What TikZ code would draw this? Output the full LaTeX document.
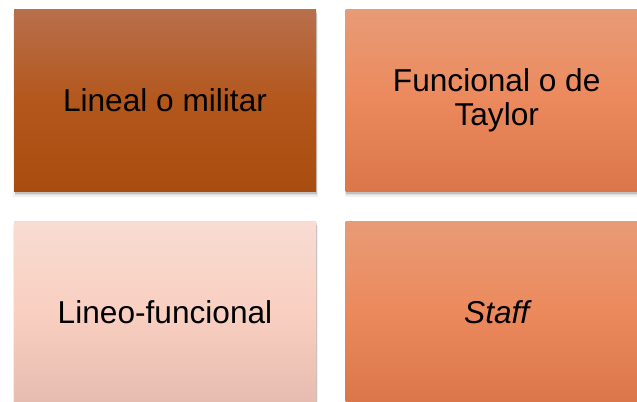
\documentclass[tikz,border=0pt]{standalone}
\usepackage{fontspec}
\setmainfont{Liberation Sans}
\usepackage{xcolor}
\usepackage{tikz}
\usetikzlibrary{positioning, shadows}

\definecolor{oxidoA}{HTML}{B96F4C}
\definecolor{oxidoB}{HTML}{B3571C}
\definecolor{oxidoC}{HTML}{A94C10}
\definecolor{salmonA}{HTML}{E89B77}
\definecolor{salmonB}{HTML}{EC895C}
\definecolor{salmonC}{HTML}{DA7649}
\definecolor{rosaA}{HTML}{F8DCD2}
\definecolor{rosaB}{HTML}{F9CFC1}
\definecolor{rosaC}{HTML}{E6BCB0}

\begin{document}
\begin{tikzpicture}[
    sombra/.style={
        drop shadow={shadow xshift=0.01cm, shadow yshift=-0.10cm, shadow scale=1.01, opacity=0.06, fill=black},
        drop shadow={shadow xshift=0.01cm, shadow yshift=-0.07cm, opacity=0.08, fill=black},
        drop shadow={shadow xshift=0.01cm, shadow yshift=-0.04cm, opacity=0.12, fill=black}},
    tipo/.style={minimum width=6.04cm, minimum height=3.64cm, inner sep=0pt,
        align=center, font=\fontsize{18}{19.5}\selectfont, sombra},
    oxido/.style={tipo, top color=oxidoA, bottom color=oxidoC, middle color=oxidoB},
    salmon/.style={tipo, top color=salmonA, bottom color=salmonC, middle color=salmonB},
    rosa/.style={tipo, top color=rosaA, bottom color=rosaC, middle color=rosaB}
]
    \useasboundingbox (0,0) rectangle (12.74,-8.02);
    \clip (0,0) rectangle (12.74,-8.02);
    \node[oxido] (lineal) at (3.3,-2.01) {Lineal o militar};
    \node[salmon, right=0.58cm of lineal] (funcional) {Funcional o de\\Taylor};
    \node[rosa, below=0.58cm of lineal] (lineo) {Lineo-funcional};
    \node[salmon, below=0.58cm of funcional] (staff) {\itshape Staff};
\end{tikzpicture}
\end{document}
